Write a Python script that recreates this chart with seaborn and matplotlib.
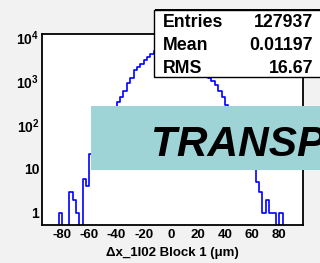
import numpy as np
import pandas as pd
import matplotlib
matplotlib.use("Agg")
import matplotlib.pyplot as plt
from matplotlib.patches import Rectangle
from matplotlib.ticker import FixedLocator, MultipleLocator, LogLocator, NullFormatter
import seaborn as sns

# histogram contents, 2.5 um bins starting at -95
bin_lo = -95.0
bin_w = 2.5
counts = [0, 0, 0, 0, 0, 1, 0, 0, 3, 2,
          1, 0, 6, 4, 22, 30, 45, 70, 98, 135,
          165, 240, 330, 440, 600, 880, 1150, 1750, 2100, 2450,
          3000, 3500, 4200, 4900, 5600, 6300, 6900, 7300, 7300, 6900,
          6300, 5600, 4900, 4200, 3500, 2900, 2300, 1800, 1400, 1150,
          1000, 790, 580, 430, 290, 210, 150, 110, 75, 50,
          32, 20, 12, 5, 3, 1, 2, 1, 1, 0,
          1, 0, 0, 0, 0, 0, 0]

stat_names = ["Entries", "Mean", "RMS"]
stat_values = ["127937", "0.01197", "16.67"]

xticks = [-80, -60, -40, -20, 0, 20, 40, 60, 80]
yticks = [1, 10, 100, 1000, 10000]
ytick_labels = ["1", "10", "$10^{2}$", "$10^{3}$", "$10^{4}$"]

sns.set_style("white")
plt.rcParams["font.family"] = ["Liberation Sans", "DejaVu Sans"]
plt.rcParams["font.weight"] = "bold"
plt.rcParams["text.color"] = "black"
plt.rcParams["axes.labelcolor"] = "black"
plt.rcParams["mathtext.fontset"] = "custom"
plt.rcParams["mathtext.rm"] = "Liberation Sans:bold"
plt.rcParams["mathtext.it"] = "Liberation Sans:bold"
plt.rcParams["mathtext.bf"] = "Liberation Sans:bold"

edges = bin_lo + bin_w * np.arange(len(counts) + 1)
# step outline: each bin level held from its left edge to the next
df = pd.DataFrame({"x": edges, "y": counts + [0]})

fig = plt.figure(figsize=(3.2, 2.63), dpi=100)
fig.patch.set_facecolor("#f2f2f2")
ax = fig.add_axes([42 / 320, 1 - 225 / 263, 261 / 320, 191 / 263])
ax.set_facecolor("white")

sns.lineplot(data=df, x="x", y="y", drawstyle="steps-post", estimator=None,
             color="#0000ff", linewidth=1.2, ax=ax)
ax.set_yscale("log")
ax.set_xlim(-95, 97.5)
ax.set_ylim(0.533, 11700)

ax.xaxis.set_major_locator(FixedLocator(xticks))
ax.xaxis.set_minor_locator(MultipleLocator(5))
ax.set_xticklabels([str(t) for t in xticks])
ax.yaxis.set_major_locator(FixedLocator(yticks))
ax.set_yticklabels(ytick_labels)
ax.yaxis.set_minor_locator(LogLocator(base=10, subs=np.arange(2, 10)))
ax.yaxis.set_minor_formatter(NullFormatter())

ax.tick_params(axis="both", which="major", direction="in", length=5, width=1,
               colors="black", pad=2)
ax.tick_params(axis="both", which="minor", direction="in", length=2.5, width=1)
ax.tick_params(axis="x", which="major", pad=3, labelsize=9.5)
ax.tick_params(axis="y", which="major", labelsize=10)
for sp in ax.spines.values():
    sp.set_linewidth(1.3)
    sp.set_color("black")

ax.set_ylabel("")
ax.set_xlabel("Δx_1I02 Block 1 (μm)", fontsize=9.5, fontweight="bold", labelpad=4)

# stats box
fig.patches.append(Rectangle((155 / 320, 1 - 78.5 / 263), 170 / 320, 69 / 263,
                             transform=fig.transFigure, facecolor="black",
                             edgecolor="none", zorder=5))
fig.patches.append(Rectangle((153.5 / 320, 1 - 76.5 / 263), 170 / 320, 67 / 263,
                             transform=fig.transFigure, facecolor="white",
                             edgecolor="black", linewidth=1, zorder=6))
for i, (n, v) in enumerate(zip(stat_names, stat_values)):
    yy = 1 - (26.7 + 23 * i) / 263
    fig.text(162.5 / 320, yy, n, fontsize=12.8, fontweight="bold", ha="left",
             va="baseline", zorder=7)
    fig.text(313 / 320, yy, v, fontsize=12.8, fontweight="bold", ha="right",
             va="baseline", zorder=7)

# overlay banner
fig.patches.append(Rectangle((91 / 320, 1 - 169.5 / 263), 240 / 320, 63.5 / 263,
                             transform=fig.transFigure, facecolor="#9fd4d7",
                             edgecolor="none", zorder=8))
fig.text(151 / 320, 1 - 155.5 / 263, "TRANSP", fontsize=30.5, fontweight="bold",
         fontstyle="italic", ha="left", va="baseline", zorder=9)

fig.savefig("out.png", dpi=100, facecolor=fig.get_facecolor())
